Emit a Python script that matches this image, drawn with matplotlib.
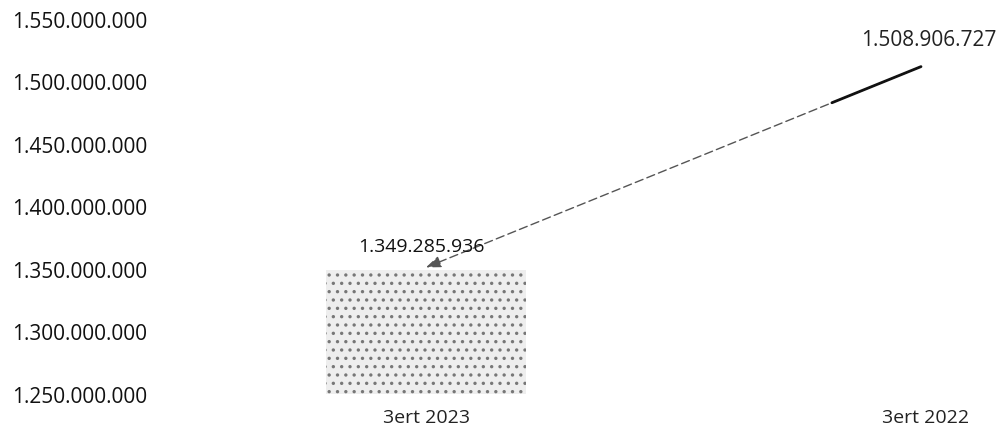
import matplotlib
matplotlib.use("Agg")
import matplotlib.pyplot as plt

categories = ["3ert 2023", "3ert 2022"]
values = [1349285936, 1508906727]
value_labels = ["1.349.285.936", "1.508.906.727"]
yticks = [1250000000, 1300000000, 1350000000, 1400000000, 1450000000, 1500000000, 1550000000]
ytick_labels = ["1.250.000.000", "1.300.000.000", "1.350.000.000", "1.400.000.000",
                "1.450.000.000", "1.500.000.000", "1.550.000.000"]

plt.rcParams['font.family'] = ['Open Sans', 'DejaVu Sans']
plt.rcParams['hatch.linewidth'] = 1.2

W, H = 998, 431
fig = plt.figure(figsize=(W / 100, H / 100), dpi=100)
ax = fig.add_axes([160 / W, 36 / H, 1 - 160 / W, (395 - 20) / H])

x = list(range(len(categories)))
ax.bar(x[0], values[0], width=0.4, color="#eeeeee", edgecolor="#777777",
       hatch="..", linewidth=0, zorder=2)
ax.bar(x[1], values[1], width=0.4, color="white", linewidth=0, zorder=1)

ax.set_ylim(1250000000, 1550000000)
ax.set_xlim(-0.532, 1.144)
ax.set_yticks(yticks)
ax.set_yticklabels(ytick_labels, fontsize=15, color="#111111")
ax.set_xticks(x)
ax.set_xticklabels(categories, fontsize=14, color="#222222")
ax.tick_params(axis="y", length=0, pad=9)
ax.tick_params(axis="x", length=0, pad=10)
for s in ax.spines.values():
    s.set_visible(False)

# connector arrow from 2022 value to 2023 bar top
sx0, sy0 = x[1] - 0.01, values[1] + 3000000
ex, ey = x[0], values[0] + 2000000
ax.annotate("", xy=(ex, ey), xytext=(sx0, sy0),
            arrowprops=dict(arrowstyle="-|>,head_length=0.9,head_width=0.35", color="#555555",
                            lw=1.0, linestyle=(0, (6, 3)), shrinkA=0, shrinkB=0), zorder=3)
# darker start segment of the connector
fx = 0.18
ax.plot([sx0, sx0 + (ex - sx0) * fx], [sy0, sy0 + (ey - sy0) * fx], color="#111111", lw=2, zorder=4,
        solid_capstyle="round")

ax.annotate(value_labels[0], xy=(x[0], values[0]), xytext=(-3, 17), textcoords="offset points",
            ha="center", va="center", fontsize=14, color="#111111")
ax.annotate(value_labels[1], xy=(x[1], values[1]), xytext=(2, 22), textcoords="offset points",
            ha="center", va="center", fontsize=15, color="#222222")

fig.savefig("out.png", dpi=100)
